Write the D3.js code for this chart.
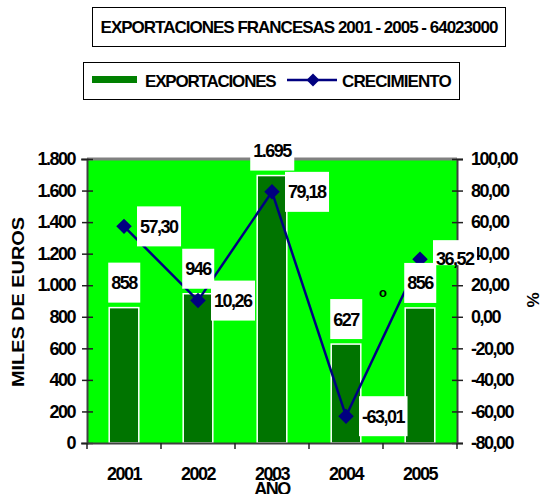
<!DOCTYPE html>
<html>
<head>
<meta charset="utf-8">
<script src="https://cdn.jsdelivr.net/npm/d3@7"></script>
<style>
  body { margin: 0; background: #fff; }
  svg { display: block; font-family: "Liberation Sans", Arial, sans-serif; font-weight: bold; }
</style>
</head>
<body>
<svg id="chart" width="544" height="494"></svg>
<script>
// data
const years = ['2001', '2002', '2003', '2004', '2005'];
const exportaciones = [858, 946, 1695, 627, 856];
const crecimiento = [57.30, 10.26, 79.18, -63.01, 36.52];
const leftTicks = [0, 200, 400, 600, 800, 1000, 1200, 1400, 1600, 1800];
const rightTicks = [-80, -60, -40, -20, 0, 20, 40, 60, 80, 100];

const title = 'EXPORTACIONES FRANCESAS 2001 - 2005 - 64023000';

const es = d3.formatLocale({ decimal: ',', thousands: '.', grouping: [3], currency: ['', '€'], minus: '-' });
const fmtMiles = es.format(',d');
const fmtPct = es.format('.2f');

const svg = d3.select('#chart');

const plot = { left: 87, right: 457, top: 159, bottom: 443 };

const x = d3.scaleBand().domain(years).range([plot.left, plot.right]);
const yL = d3.scaleLinear().domain([0, 1800]).range([plot.bottom, plot.top]);
const yR = d3.scaleLinear().domain([-80, 100]).range([plot.bottom, plot.top]);

const bw = x.bandwidth() * 0.4;
const cx = d => x(d) + x.bandwidth() / 2;

// title box
svg.append('rect')
    .attr('x', 92.5).attr('y', 7.5).attr('width', 413).attr('height', 39)
    .attr('fill', '#fff').attr('stroke', '#000');
svg.append('text')
    .attr('x', 299).attr('y', 33)
    .attr('text-anchor', 'middle')
    .attr('font-size', 17)
    .attr('letter-spacing', '-1px')
    .text(title);

// legend
const lg = svg.append('g');
lg.append('rect')
    .attr('x', 83.5).attr('y', 62.5).attr('width', 376).attr('height', 37)
    .attr('fill', '#fff').attr('stroke', '#000');
lg.append('rect')
    .attr('x', 92).attr('y', 76).attr('width', 45).attr('height', 7)
    .attr('fill', '#008000');
lg.append('text')
    .attr('x', 145).attr('y', 87).attr('font-size', 17)
    .attr('letter-spacing', '-1.2px')
    .text('EXPORTACIONES');
lg.append('line')
    .attr('x1', 287).attr('x2', 337).attr('y1', 80).attr('y2', 80)
    .attr('stroke', '#000080').attr('stroke-width', 2.5);
lg.append('path')
    .attr('d', d3.symbol(d3.symbolSquare, 85)())
    .attr('transform', 'translate(313,80) rotate(45)')
    .attr('fill', '#000080');
lg.append('text')
    .attr('x', 342).attr('y', 87).attr('font-size', 17)
    .attr('letter-spacing', '-0.9px')
    .text('CRECIMIENTO');

// plot area
svg.append('rect')
    .attr('x', plot.left).attr('y', plot.top)
    .attr('width', plot.right - plot.left).attr('height', plot.bottom - plot.top)
    .attr('fill', '#00ff00');
svg.append('line')
    .attr('x1', plot.left).attr('x2', plot.right)
    .attr('y1', plot.top).attr('y2', plot.top)
    .attr('stroke', '#808080').attr('stroke-width', 3);

// bars
svg.append('g')
    .selectAll('rect')
    .data(years)
    .join('rect')
    .attr('x', d => cx(d) - bw / 2)
    .attr('width', bw)
    .attr('y', (d, i) => yL(exportaciones[i]))
    .attr('height', (d, i) => plot.bottom - yL(exportaciones[i]))
    .attr('fill', '#007400')
    .attr('stroke', '#fff')
    .attr('stroke-width', 1.5);

// axes
const axisL = svg.append('g')
    .attr('transform', `translate(${plot.left},0)`)
    .call(d3.axisLeft(yL).tickValues(leftTicks).tickFormat(fmtMiles).tickSize(6).tickPadding(6));
const axisR = svg.append('g')
    .attr('transform', `translate(${plot.right},0)`)
    .call(d3.axisRight(yR).tickValues(rightTicks).tickFormat(fmtPct).tickSize(6).tickPadding(8));
const axisB = svg.append('g')
    .attr('transform', `translate(0,${plot.bottom})`)
    .call(d3.axisBottom(x).tickSize(0).tickPadding(26));

[axisL, axisR, axisB].forEach(a => {
    a.select('.domain').attr('stroke', '#404040').attr('stroke-width', 2);
    a.selectAll('.tick line').attr('stroke', '#202020').attr('stroke-width', 1.5);
    a.selectAll('text')
        .attr('font-family', '"Liberation Sans", Arial, sans-serif')
        .attr('font-weight', 'bold')
        .attr('font-size', 18)
        .attr('letter-spacing', '-1.5px')
        .attr('fill', '#000');
});
axisL.selectAll('.tick line').attr('x2', 6).attr('x1', -5);
axisR.selectAll('.tick line').attr('x1', -5).attr('x2', 6);
axisB.selectAll('.tick text').attr('dy', '0.6em');

// category boundary ticks
svg.append('g')
    .selectAll('line')
    .data(years.concat(['end']))
    .join('line')
    .attr('x1', d => d === 'end' ? plot.right : x(d))
    .attr('x2', d => d === 'end' ? plot.right : x(d))
    .attr('y1', plot.bottom).attr('y2', plot.bottom + 6)
    .attr('stroke', '#202020').attr('stroke-width', 1.5);

// line series
const pts = years.map((d, i) => [cx(d), yR(crecimiento[i])]);
svg.append('path')
    .attr('d', d3.line()(pts))
    .attr('fill', 'none')
    .attr('stroke', '#000080')
    .attr('stroke-width', 2.5);
svg.append('g')
    .selectAll('path')
    .data(pts)
    .join('path')
    .attr('d', d3.symbol(d3.symbolSquare, 120)())
    .attr('transform', d => `translate(${d[0]},${d[1]}) rotate(45)`)
    .attr('fill', '#000080');

// data labels
const labels = svg.append('g');

function boxLabel(txt, px, py, anchor, padTop, padBottom) {
    const g = labels.append('g');
    const r = g.append('rect').attr('fill', '#fff');
    const t = g.append('text')
        .attr('x', px).attr('y', py)
        .attr('dy', '0.36em')
        .attr('text-anchor', anchor)
        .attr('font-size', 18)
        .attr('letter-spacing', '-1.5px')
        .text(txt);
    const b = t.node().getBBox();
    r.attr('x', b.x - 3).attr('width', b.width + 5)
        .attr('y', py - padTop).attr('height', padTop + padBottom);
}

years.forEach((d, i) => {
    boxLabel(fmtMiles(exportaciones[i]), cx(d), yL(exportaciones[i]) - 25, 'middle', 20, 20);
});
years.forEach((d, i) => {
    const last = i === years.length - 1;
    boxLabel(fmtPct(crecimiento[i]), cx(d) + 16, yR(crecimiento[i]) - (last ? 1 : 0),
        'start', last ? 18 : 20, last ? 7 : 20);
});

// stray mark seen in the original
svg.append('text')
    .attr('x', x('2005')).attr('y', yR(15))
    .attr('dy', '0.3em')
    .attr('text-anchor', 'middle')
    .attr('font-size', 13)
    .text('o');

// axis titles
svg.append('text')
    .attr('transform', 'translate(24,387) rotate(-90)')
    .attr('font-size', 16)
    .attr('textLength', 170).attr('lengthAdjust', 'spacingAndGlyphs')
    .text('MILES DE EUROS');
svg.append('text')
    .attr('transform', 'translate(539,300) rotate(-90)')
    .attr('text-anchor', 'middle')
    .attr('font-size', 17)
    .text('%');
svg.append('text')
    .attr('x', (plot.left + plot.right) / 2).attr('y', 495)
    .attr('text-anchor', 'middle')
    .attr('font-size', 18)
    .attr('letter-spacing', '-1.5px')
    .text('AÑO');
</script>
</body>
</html>
